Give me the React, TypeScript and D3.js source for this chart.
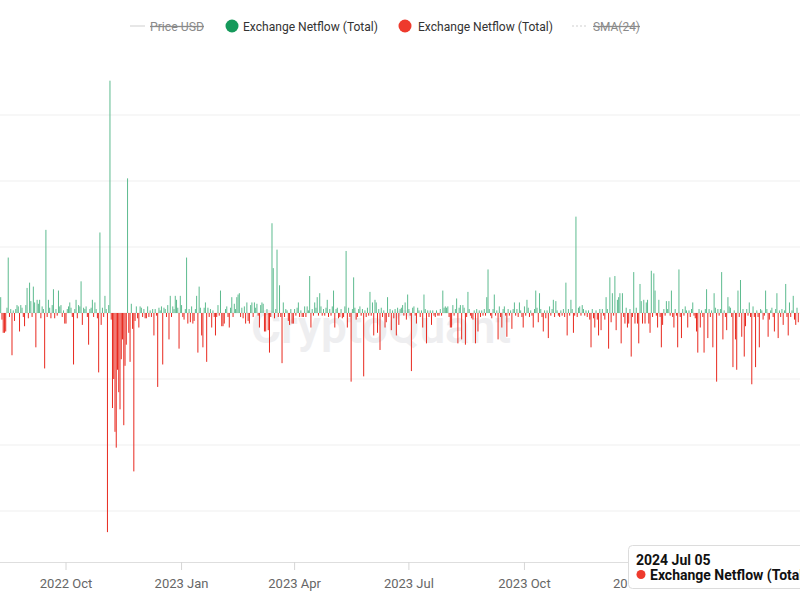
import React from "react";
import * as d3 from "d3";

// Exchange Netflow (Total), daily, in thousands (k) – one array per ~80 day block
const startDate = "2022-08-09";
const flowBlock1 = [
  -0.5, 1.2, -0.5, -1.5, -1.5, -1.4, 0.4, 4.2, -0.3, 0.3,
  -3.2, 0.2, -0.6, 0.3, 0.6, 0.5, -1.4, 0.6, 0.4, -0.3,
  -1.0, 0.6, 1.9, -0.4, 2.3, 0.9, -0.3, 2.0, 0.8, -2.6,
  1.0, 0.7, 1.0, -0.4, 0.5, 0.3, -4.2, 6.3, -0.3, 1.0,
  0.4, -0.4, 0.6, 1.8, -0.4, 0.3, -0.2, 1.7, 0.5, 0.6,
  -0.3, 0.2, -0.8, -0.8, 0.3, 0.5, 0.8, 0.4, -0.3, -3.9,
  0.3, 1.0, -0.4, 0.6, 0.5, 2.4, -0.9, 0.4, 0.3, 0.5,
  -0.3, -2.4, 0.3, 0.4, 1.0, -0.3, 0.8, 0.3, -0.4, -4.5,
];
const flowBlock2 = [
  6.1, -0.9, 0.4, -0.3, 1.3, 0.3, -16.6, 0.6, 17.6, -0.5,
  -7.2, -5.0, -9.0, -10.2, -4.3, -6.0, -7.3, -3.5, -2.0, -8.5,
  -4.0, -2.4, 10.2, -1.5, -3.7, 0.7, -1.2, -12.0, -0.6, 0.5,
  -0.4, -1.1, 0.5, 0.4, -0.3, 0.3, -0.4, -0.4, 0.5, -0.3,
  0.2, -0.3, 0.3, -1.7, 0.3, -0.2, -5.6, 0.4, 0.2, 0.5,
  -3.9, 0.4, 0.3, -0.3, 0.6, -2.0, 1.3, -0.3, 0.5, 0.3,
  1.3, 1.0, 0.4, -2.7, 1.3, 0.6, -0.3, -0.5, 0.3, 4.2,
  -0.8, 0.3, -0.7, 0.5, -0.8, -0.6, 0.3, 1.3, -3.0, 2.0,
];
const flowBlock3 = [
  0.4, -1.7, -2.6, 0.4, 0.8, -3.7, 0.4, -0.3, 0.3, -1.1,
  0.2, -0.3, -1.7, -0.3, 0.6, -0.2, 1.7, -1.0, -1.0, -0.8,
  0.3, 0.5, -0.3, -1.1, 0.4, 1.2, -0.3, 0.7, 0.3, 1.2,
  1.4, 1.5, -0.3, 0.4, -0.4, 0.5, -0.8, 0.8, -0.6, -0.8,
  0.6, 0.8, -0.3, 0.8, 0.4, 0.7, -0.2, -1.1, 0.6, 0.8,
  0.7, -1.4, -1.4, 0.3, -1.3, -3.0, -0.3, 6.8, 3.4, -0.4,
  0.3, 4.8, -0.3, 2.1, -0.3, -3.8, 0.8, -0.3, 0.3, 0.2,
  -0.6, -0.9, 0.3, -0.8, -0.8, 0.3, -0.2, 0.4, 0.8, -0.3,
];
const flowBlock4 = [
  0.2, -0.3, -0.3, 0.5, -0.3, 0.5, 0.2, 2.8, -1.1, 0.3,
  -0.2, 0.8, 0.4, 1.2, -0.2, 1.5, 0.5, -0.2, 0.3, -0.2,
  0.4, 1.0, -0.3, 0.3, -0.2, 0.5, 1.7, -1.1, 0.3, 0.4,
  -0.4, -0.3, 0.3, -0.4, -0.3, 0.5, 4.7, -1.1, 0.4, -0.3,
  -5.2, 0.3, 2.7, 0.4, -0.5, -0.3, 0.3, 0.5, -0.2, 0.3,
  -4.8, 0.2, -0.3, 0.4, -0.2, 1.6, -0.2, 0.8, -1.7, 1.0,
  0.8, -1.5, 0.3, -2.8, 0.4, -0.3, 0.2, -1.1, -0.7, 1.2,
  -0.3, 0.3, -1.3, 0.2, -0.4, 0.3, -1.7, 0.4, -0.9, 0.3,
];
const flowBlock5 = [
  0.4, 0.6, -0.2, 0.8, -0.5, 1.4, 0.3, -0.2, -4.4, 0.4,
  0.5, -0.2, -0.8, 0.4, 0.2, -0.3, 0.2, -1.1, 1.4, 0.3,
  -2.3, 0.2, -0.3, 0.2, -0.9, 0.2, -0.2, -0.3, 0.2, -0.2,
  -0.2, 0.3, -0.2, 1.7, 0.4, 0.5, 0.4, 0.5, -0.3, -1.1,
  -1.1, 0.6, -0.2, 0.3, 1.1, -2.3, 0.4, 0.6, -2.0, 0.6,
  0.4, -2.4, -0.3, 1.6, 0.3, -0.2, -0.4, -0.5, 0.2, -2.3,
  0.3, -1.4, 0.2, -0.3, 0.2, -0.2, 0.3, -0.2, 1.2, 3.3,
  0.3, -0.2, -0.4, 0.3, 1.4, -0.2, 0.2, -2.0, 0.5, -0.3,
];
const flowBlock6 = [
  -1.1, 0.3, 0.5, -0.2, -1.8, 0.3, -0.2, 0.2, -1.2, 0.3,
  0.8, -0.2, 0.3, -0.3, 0.8, 0.2, -0.3, -1.1, 0.5, -0.2,
  1.0, 0.4, -0.3, 0.2, -0.2, -1.1, 0.3, 1.7, 0.4, -0.7,
  1.5, 0.3, -0.3, -1.4, 0.2, -0.4, 0.2, -1.9, 0.5, -0.2,
  0.3, 1.0, -0.3, 0.9, 0.2, -0.2, -0.3, 0.2, -0.2, 0.3,
  -0.3, 2.3, -1.7, 0.3, -0.2, 1.0, 0.3, -1.5, -0.2, 7.3,
  -0.3, 0.4, 0.5, -0.2, 0.6, 0.3, -0.2, 0.2, -0.3, 0.2,
  -0.5, -2.6, 0.3, -0.4, -1.1, 0.2, -0.5, -1.7, 0.3, -1.3,
];
const flowBlock7 = [
  0.3, -0.2, -0.5, 1.2, 0.3, -2.7, 2.7, -0.7, 1.5, -0.2,
  2.8, -1.3, 1.0, 1.2, 1.5, -2.3, 1.5, -0.3, -0.8, 0.4,
  -1.1, -0.8, 0.3, -3.3, -0.3, 3.1, -0.8, 0.4, -0.8, -2.3,
  2.2, 0.9, -0.8, 1.0, -0.8, 0.8, 1.0, -0.8, -1.5, 3.2,
  -0.3, 3.0, 1.7, -0.2, -1.1, 1.0, -0.3, -2.6, -0.9, 0.3,
  -0.2, 0.9, 0.3, 0.9, -0.2, 1.7, -0.3, -1.1, 0.3, -0.2,
  -2.6, 3.3, -0.3, -1.9, 0.3, -0.2, 0.5, 0.2, -1.1, 0.2,
  -0.3, 0.3, 0.8, -0.2, -0.4, -1.4, -3.0, 0.3, -1.1, 0.2,
];
const flowBlock8 = [
  -0.3, -3.0, 0.3, 1.8, -1.9, 0.3, -0.3, 0.2, -2.6, 1.5,
  0.4, -5.2, 0.3, -0.2, 0.3, 3.1, -2.0, 0.2, -0.3, -1.3,
  1.2, 0.5, 0.4, -0.3, -4.1, 0.2, -2.0, -4.3, 1.7, -0.3,
  2.5, -1.8, 0.3, -3.3, -1.0, 0.3, -0.2, 0.8, -0.3, -5.4,
  0.5, -0.3, -4.1, 0.2, -0.3, -2.6, 0.3, 0.2, -0.5, -0.2,
  1.7, 0.3, -1.8, -0.5, 0.2, 0.4, -0.3, -1.4, 0.3, 1.5,
  -1.9, 0.2, -0.3, 0.3, -0.9, 0.2, 2.2, -0.3, -1.7, 0.8,
  -0.3, 0.2, 1.3, -0.5, -0.9, 0.4, -0.7,
];

const tickDates = ["2022-10-01", "2023-01-01", "2023-04-01", "2023-07-01", "2023-10-01", "2024-01-01"];
const gridValues = [-15, -10, -5, 0, 5, 10, 15];
const legendItems = ["Price USD", "Exchange Netflow (Total)", "Exchange Netflow (Total)", "SMA(24)"];
const tooltipDate = "2024 Jul 05";
const tooltipSeries = "Exchange Netflow (Total)";
const watermark = "CryptoQuant";

const GREEN = "#5dbb8f";
const RED = "#e8291f";
const FONT = "Roboto, 'Noto Sans', 'DejaVu Sans', sans-serif";

export default function App() {
  const netflow = [
    ...flowBlock1, ...flowBlock2, ...flowBlock3, ...flowBlock4,
    ...flowBlock5, ...flowBlock6, ...flowBlock7, ...flowBlock8,
  ];
  const parse = d3.timeParse("%Y-%m-%d");
  const start = parse(startDate) as Date;
  const data = netflow.map((v, i) => ({ date: d3.timeDay.offset(start, i), v }));

  const x = d3
    .scaleTime()
    .domain([parse("2022-10-01") as Date, parse("2024-01-01") as Date])
    .range([66, 640]);
  const y = d3.scaleLinear().domain([-5, 5]).range([379, 247]);
  const fmt = d3.timeFormat("%Y %b");
  const ticks = tickDates.map((t) => parse(t) as Date);
  const axisY = 562;

  return (
    <svg
      width={800}
      height={600}
      style={{ position: "absolute", left: 0, top: 0, background: "#fff" }}
      fontFamily={FONT}
    >
      <defs>
        <clipPath id="plotClip">
          <rect x={0} y={45} width={800} height={axisY - 45} />
        </clipPath>
        <clipPath id="labelClip">
          <rect x={0} y={540} width={628} height={60} />
        </clipPath>
      </defs>
      <rect x={0} y={0} width={800} height={600} fill="#fff" />
      {/* gridlines */}
      {gridValues.map((g) => (
        <line key={g} x1={0} x2={800} y1={y(g)} y2={y(g)} stroke="#efefef" strokeWidth={1} />
      ))}
      {/* watermark */}
      <text x={381} y={343} textAnchor="middle" fontSize={46} fontWeight={600} fill="#eeeef0">
        {watermark}
      </text>
      {/* bars */}
      <g clipPath="url(#plotClip)">
        {data.map((d, i) => {
          const y0 = y(0);
          const y1 = y(d.v);
          return (
            <rect
              key={i}
              x={x(d.date) - 0.5}
              width={1}
              y={Math.min(y0, y1)}
              height={Math.abs(y1 - y0)}
              fill={d.v >= 0 ? GREEN : RED}
            />
          );
        })}
      </g>
      {/* x axis */}
      <line x1={0} x2={800} y1={axisY + 0.5} y2={axisY + 0.5} stroke="#dedede" />
      <g clipPath="url(#labelClip)">
        {ticks.map((t, i) => (
          <g key={i} transform={`translate(${x(t)},0)`}>
            <line x1={0} x2={0} y1={axisY} y2={axisY + 8} stroke="#d6d6d6" />
            <text y={axisY + 26} textAnchor="middle" fontSize={13} fill="#666">
              {fmt(t)}
            </text>
          </g>
        ))}
      </g>
      {/* legend */}
      <g fontSize={13}>
        <line x1={130} x2={145} y1={26} y2={26} stroke="#cfcfcf" />
        <text x={150} y={30.5} fill="#8a8a8a" textDecoration="line-through" textLength={54} lengthAdjust="spacingAndGlyphs">
          {legendItems[0]}
        </text>
        <circle cx={232} cy={26} r={6.5} fill="#15995b" />
        <text x={243} y={30.5} fill="#333" textLength={135} lengthAdjust="spacingAndGlyphs">
          {legendItems[1]}
        </text>
        <circle cx={405} cy={26} r={6.5} fill="#ee3a2d" />
        <text x={418} y={30.5} fill="#333" textLength={135} lengthAdjust="spacingAndGlyphs">
          {legendItems[2]}
        </text>
        <line x1={572} x2={588} y1={26} y2={26} stroke="#cfcfcf" strokeDasharray="2,2" />
        <text x={593} y={30.5} fill="#8a8a8a" textDecoration="line-through" textLength={47} lengthAdjust="spacingAndGlyphs">
          {legendItems[3]}
        </text>
      </g>
      {/* tooltip */}
      <g>
        <rect x={628.5} y={545.5} width={190} height={43} rx={4} fill="#fff" stroke="#dcdcdc" />
        <text x={636} y={564.5} fontSize={14} fontWeight={700} fill="#111">
          {tooltipDate}
        </text>
        <circle cx={641} cy={574.5} r={4.5} fill="#ee3a2d" />
        <text x={650} y={579.5} fontSize={14} fontWeight={700} fill="#111">
          {tooltipSeries}
        </text>
      </g>
    </svg>
  );
}
